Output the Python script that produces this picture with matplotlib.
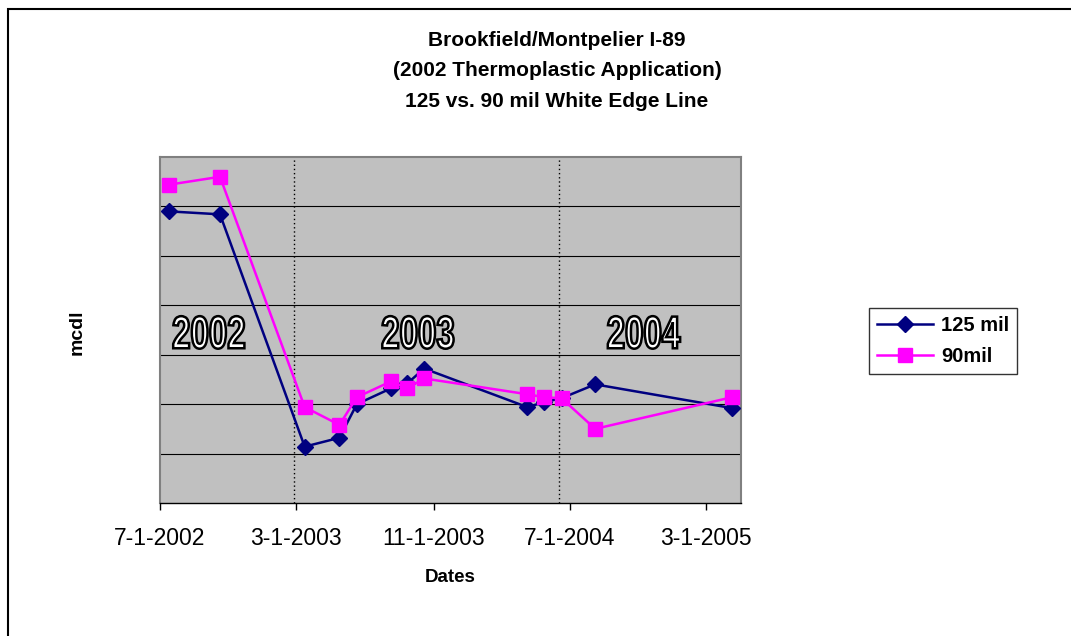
import numpy as np
import pandas as pd
import matplotlib.pyplot as plt
import matplotlib.transforms as mtransforms
from matplotlib.patches import Rectangle, PathPatch
from matplotlib.textpath import TextPath
from matplotlib.font_manager import FontProperties

plt.rcParams['font.family'] = ['Liberation Sans', 'DejaVu Sans']

# sample dates
dates = pd.to_datetime([
    "2002-07-17", "2002-10-16", "2003-03-16", "2003-05-17", "2003-06-17",
    "2003-08-17", "2003-09-15", "2003-10-15", "2004-04-16", "2004-05-16",
    "2004-06-16", "2004-08-15", "2005-04-16",
])
mil125 = [295, 292, 57, 66, 100, 116, 121, 136, 97, 102, 106, 120, 96]
mil90 = [322, 330, 97, 79, 107, 123, 116, 126, 110, 107, 106, 75, 107]

tick_dates = pd.to_datetime(["2002-07-01", "2003-03-01", "2003-11-01", "2004-07-01", "2005-03-01"])
tick_labels = ["7-1-2002", "3-1-2003", "11-1-2003", "7-1-2004", "3-1-2005"]
year_dividers = pd.to_datetime(["2003-02-25", "2004-06-12"])
year_labels = ["2002", "2003", "2004"]

W, H = 1071, 636
fig = plt.figure(figsize=(W / 100, H / 100), dpi=100)
ax = fig.add_axes([160 / W, 1 - 503 / H, 581 / W, 346 / H])

ax.set_facecolor("#C0C0C0")
ax.plot(dates, mil125, color="#000080", lw=1.8, marker="D", ms=8,
        label="125 mil", zorder=3)
ax.plot(dates, mil90, color="#FF00FF", lw=1.8, marker="s", ms=10,
        label="90mil", zorder=4)

for d in year_dividers:
    ax.axvline(d, color="black", ls=(0, (1, 2)), lw=1, zorder=2)

ax.set_xlim(pd.Timestamp("2002-07-01"), pd.Timestamp("2005-05-02"))
ax.set_ylim(0, 350)
ax.set_yticks(np.arange(50, 350, 50))
ax.yaxis.grid(True, color="black", lw=0.8)
ax.set_axisbelow(True)
ax.tick_params(axis="y", length=0, labelleft=False)

ax.set_xticks(tick_dates)
ax.set_xticklabels(tick_labels, fontsize=16.5)
ax.tick_params(axis="x", direction="out", length=5, width=1, pad=12)

for s in ["top", "right", "left"]:
    ax.spines[s].set_color("#808080")
    ax.spines[s].set_linewidth(1.5)
ax.spines["bottom"].set_color("black")
ax.spines["bottom"].set_linewidth(1)

ax.set_xlabel("Dates", fontsize=13.5, fontweight="bold", labelpad=14)
fig.text(77 / W, 1 - 332 / H, "mcdl", rotation=90, fontsize=14,
         fontweight="bold", ha="center", va="center")

fig.text(557 / W, 1 - 71 / H,
         "Brookfield/Montpelier I-89\n(2002 Thermoplastic Application)\n125 vs. 90 mil White Edge Line",
         fontsize=15, fontweight="bold", ha="center", va="center", linespacing=1.75)

# outlined, condensed year labels
fp = FontProperties(family="Liberation Sans", weight="bold")
for lab, xf in zip(year_labels, [0.084, 0.444, 0.833]):
    tp = TextPath((0, 0), lab, size=46, prop=fp)
    bb = tp.get_extents()
    tr = (mtransforms.Affine2D()
          .translate(-(bb.x0 + bb.x1) / 2, -(bb.y0 + bb.y1) / 2)
          .scale(0.72, 1.0)
          + mtransforms.ScaledTranslation(xf, 0.493, ax.transAxes))
    ax.add_patch(PathPatch(tp, transform=tr, facecolor="white",
                           edgecolor="black", lw=1.8, zorder=5))

leg = fig.legend(loc="center", bbox_to_anchor=(943 / W, 1 - 341 / H),
                 prop={"weight": "bold", "size": 14.5}, frameon=True,
                 fancybox=False, edgecolor="black", handlelength=2.8,
                 labelspacing=0.6, borderpad=0.4, handletextpad=0.4)
leg.get_frame().set_linewidth(1)

fig.add_artist(Rectangle((8 / W, -0.1), 2, 1 - 9 / H + 0.1, transform=fig.transFigure,
                         fill=False, edgecolor="black", lw=1.5, clip_on=False))

fig.savefig("out.png", dpi=100)
